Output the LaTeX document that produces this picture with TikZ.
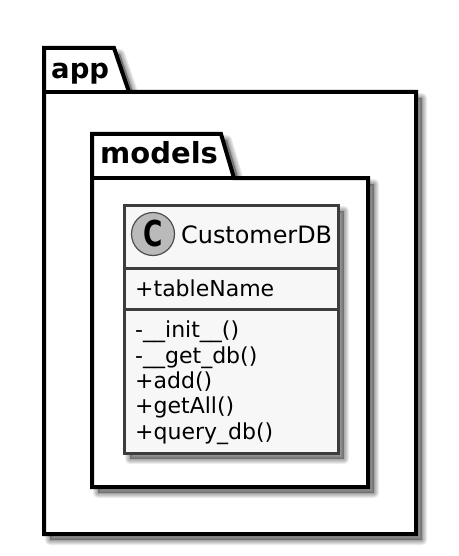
\documentclass[tikz,border=0pt]{standalone}
\usepackage{fontspec}
\setmainfont{DejaVu Sans}
\newcommand{\softshadow}[1]{%
  \foreach \w in {10,8,6,4,2}{
    \draw[black,opacity=0.075,fill=black,line width=\w pt,line join=round,shift={(6,6)}] #1;
  }%
}
\tikzset{
  pkgline/.style={draw=black,line width=4pt,line join=miter,fill=white},
  pkgname/.style={anchor=base west,inner sep=0pt,text=black},
  classbox/.style={draw=black!76,line width=3pt,fill=black!3},
  member/.style={font=\fontsize{22}{22}\selectfont,anchor=base west,inner sep=0pt,text=black},
}
\begin{document}
\begin{tikzpicture}[x=1pt,y=-1pt]
\useasboundingbox (0,0) rectangle (458,556);
\fill[white] (0,0) rectangle (458,556);
% app package
\softshadow{(44,48) -- (114,48) -- (129,92) -- (416,92) -- (416,534) -- (44,534) -- cycle}
\draw[pkgline] (44,48) -- (114,48) -- (129,92) -- (416,92) -- (416,534) -- (44,534) -- cycle;
\draw[pkgline] (44,92) -- (129,92);
\node[pkgname,font=\fontsize{27.5}{27.5}\selectfont\bfseries] (app) at (51,79) {app};
% models package
\softshadow{(92,134) -- (221,134) -- (234,178) -- (368,178) -- (368,487) -- (92,487) -- cycle}
\draw[pkgline] (92,134) -- (221,134) -- (234,178) -- (368,178) -- (368,487) -- (92,487) -- cycle;
\draw[pkgline] (92,178) -- (234,178);
\node[pkgname,font=\fontsize{29}{29}\selectfont\bfseries] (models) at (100,164) {models};
% class
\softshadow{(124,205) rectangle (338,453)}
\draw[classbox] (124,205) rectangle (338,453);
\draw[classbox] (124,268) -- (338,268);
\draw[classbox] (124,309) -- (338,309);
\node[circle,draw=black!70,line width=1.2pt,fill=black!27,minimum size=43pt,inner sep=0pt] (icon) at (153,234) {};
\node[font=\fontsize{31}{31}\selectfont\bfseries,inner sep=0pt,yscale=1.15,xscale=0.85] (iconC) at (153,234) {C};
\node[font=\fontsize{23.9}{23.9}\selectfont,anchor=base west,inner sep=0pt] (name) at (181,243) {CustomerDB};
\node[member] (f1) at (135,296) {+tableName};
\node[member] (m1) at (135,337) {-\_\_init\_\_()};
\node[member] (m2) at (135,363) {-\_\_get\_db()};
\node[member] (m3) at (135,388) {+add()};
\node[member] (m4) at (135,413) {+getAll()};
\node[member] (m5) at (135,439) {+query\_db()};
\end{tikzpicture}
\end{document}
